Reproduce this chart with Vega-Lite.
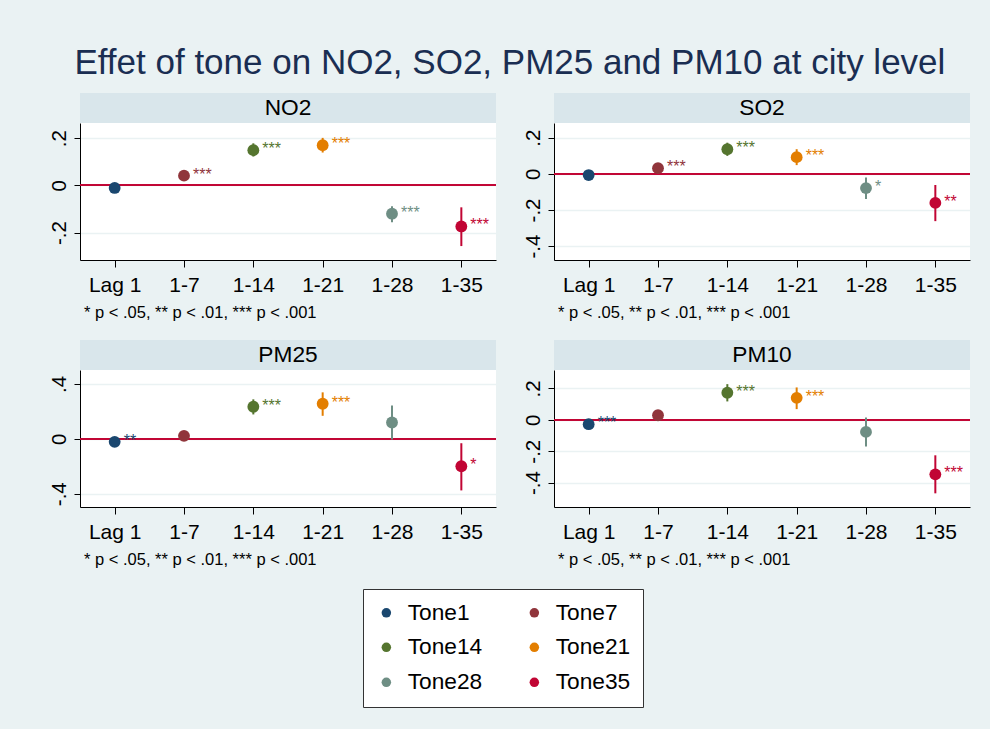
{
  "$schema": "https://vega.github.io/schema/vega-lite/v6.json",
  "background": "#EAF2F3",
  "padding": {"left": 48, "top": 46, "right": 19, "bottom": 23},
  "title": {"text": "Effet of tone on NO2, SO2, PM25 and PM10 at city level", "fontSize": 35, "fontWeight": "normal", "color": "#1a2e52", "anchor": "middle", "offset": 12},
  "datasets": {
    "est": [
      {"pollutant": "NO2", "lag": "Lag 1", "tone": "Tone1", "est": -0.011, "lo": -0.019, "hi": -0.003, "sig": ""},
      {"pollutant": "NO2", "lag": "1-7", "tone": "Tone7", "est": 0.041, "lo": 0.031, "hi": 0.051, "sig": "***"},
      {"pollutant": "NO2", "lag": "1-14", "tone": "Tone14", "est": 0.149, "lo": 0.122, "hi": 0.178, "sig": "***"},
      {"pollutant": "NO2", "lag": "1-21", "tone": "Tone21", "est": 0.170, "lo": 0.139, "hi": 0.201, "sig": "***"},
      {"pollutant": "NO2", "lag": "1-28", "tone": "Tone28", "est": -0.120, "lo": -0.156, "hi": -0.088, "sig": "***"},
      {"pollutant": "NO2", "lag": "1-35", "tone": "Tone35", "est": -0.174, "lo": -0.257, "hi": -0.093, "sig": "***"},
      {"pollutant": "SO2", "lag": "Lag 1", "tone": "Tone1", "est": -0.007, "lo": -0.015, "hi": 0.001, "sig": ""},
      {"pollutant": "SO2", "lag": "1-7", "tone": "Tone7", "est": 0.031, "lo": 0.019, "hi": 0.043, "sig": "***"},
      {"pollutant": "SO2", "lag": "1-14", "tone": "Tone14", "est": 0.136, "lo": 0.099, "hi": 0.172, "sig": "***"},
      {"pollutant": "SO2", "lag": "1-21", "tone": "Tone21", "est": 0.092, "lo": 0.048, "hi": 0.136, "sig": "***"},
      {"pollutant": "SO2", "lag": "1-28", "tone": "Tone28", "est": -0.079, "lo": -0.139, "hi": -0.020, "sig": "*"},
      {"pollutant": "SO2", "lag": "1-35", "tone": "Tone35", "est": -0.161, "lo": -0.262, "hi": -0.062, "sig": "**"},
      {"pollutant": "PM25", "lag": "Lag 1", "tone": "Tone1", "est": -0.022, "lo": -0.035, "hi": -0.009, "sig": "**"},
      {"pollutant": "PM25", "lag": "1-7", "tone": "Tone7", "est": 0.022, "lo": 0.005, "hi": 0.039, "sig": ""},
      {"pollutant": "PM25", "lag": "1-14", "tone": "Tone14", "est": 0.234, "lo": 0.178, "hi": 0.288, "sig": "***"},
      {"pollutant": "PM25", "lag": "1-21", "tone": "Tone21", "est": 0.256, "lo": 0.168, "hi": 0.339, "sig": "***"},
      {"pollutant": "PM25", "lag": "1-28", "tone": "Tone28", "est": 0.119, "lo": -0.005, "hi": 0.244, "sig": ""},
      {"pollutant": "PM25", "lag": "1-35", "tone": "Tone35", "est": -0.200, "lo": -0.376, "hi": -0.032, "sig": "*"},
      {"pollutant": "PM10", "lag": "Lag 1", "tone": "Tone1", "est": -0.028, "lo": -0.060, "hi": 0.004, "sig": "***"},
      {"pollutant": "PM10", "lag": "1-7", "tone": "Tone7", "est": 0.029, "lo": 0.010, "hi": 0.048, "sig": ""},
      {"pollutant": "PM10", "lag": "1-14", "tone": "Tone14", "est": 0.172, "lo": 0.117, "hi": 0.227, "sig": "***"},
      {"pollutant": "PM10", "lag": "1-21", "tone": "Tone21", "est": 0.140, "lo": 0.068, "hi": 0.206, "sig": "***"},
      {"pollutant": "PM10", "lag": "1-28", "tone": "Tone28", "est": -0.077, "lo": -0.170, "hi": 0.015, "sig": ""},
      {"pollutant": "PM10", "lag": "1-35", "tone": "Tone35", "est": -0.347, "lo": -0.468, "hi": -0.226, "sig": "***"}
    ]
  },
  "resolve": {"scale": {"color": "shared"}, "legend": {"color": "shared"}},
  "spacing": 18,
  "vconcat": [
    {
      "spacing": 25,
      "hconcat": [
        {
          "spacing": 0,
          "vconcat": [
            {"width": 416, "height": 30, "view": {"fill": "#D9E6EB", "stroke": null},
             "data": {"values": [{"panel": "NO2"}]},
             "mark": {"type": "text", "fontSize": 22.7, "color": "#000000", "baseline": "middle"},
             "encoding": {"text": {"field": "panel", "type": "nominal"}}},
            {"width": 416, "height": 137, "view": {"fill": "white", "stroke": null},
             "data": {"name": "est"},
             "transform": [{"filter": "datum.pollutant == 'NO2'"}],
             "title": {"text": "* p < .05, ** p < .01, *** p < .001", "orient": "bottom", "anchor": "start", "frame": "group", "fontSize": 16.5, "fontWeight": "normal", "color": "#000000", "dx": 4, "offset": 10},
             "layer": [
               {"mark": {"type": "rule", "color": "#c10534", "strokeWidth": 1.5},
                "encoding": {"y": {"datum": 0, "type": "quantitative", "scale": {"domain": [-0.316, 0.264], "nice": false, "zero": false}, "axis": {"values": [-0.2, 0, 0.2], "title": null}}}},
               {"mark": {"type": "rule", "strokeWidth": 2},
                "encoding": {"x": {"field": "lag", "type": "ordinal", "sort": ["Lag 1", "1-7", "1-14", "1-21", "1-28", "1-35"], "scale": {"type": "point", "padding": 0.5}, "axis": {"title": null}},
                             "y": {"field": "lo", "type": "quantitative"}, "y2": {"field": "hi"},
                             "color": {"field": "tone", "type": "nominal"}}},
               {"mark": {"type": "point", "filled": true, "size": 140, "opacity": 1},
                "encoding": {"x": {"field": "lag", "type": "ordinal", "sort": ["Lag 1", "1-7", "1-14", "1-21", "1-28", "1-35"]},
                             "y": {"field": "est", "type": "quantitative"},
                             "color": {"field": "tone", "type": "nominal", "scale": {"domain": ["Tone1", "Tone7", "Tone14", "Tone21", "Tone28", "Tone35"], "range": ["#1a476f", "#90353b", "#55752f", "#e37e00", "#6e8e84", "#c10534"]}, "legend": {"title": null}}}},
               {"mark": {"type": "text", "align": "left", "baseline": "middle", "dx": 9, "dy": -1, "fontSize": 16},
                "encoding": {"x": {"field": "lag", "type": "ordinal", "sort": ["Lag 1", "1-7", "1-14", "1-21", "1-28", "1-35"]},
                             "y": {"field": "est", "type": "quantitative"},
                             "text": {"field": "sig", "type": "nominal"},
                             "color": {"field": "tone", "type": "nominal"}}}
             ]}
          ]
        },
        {
          "spacing": 0,
          "vconcat": [
            {"width": 416, "height": 30, "view": {"fill": "#D9E6EB", "stroke": null},
             "data": {"values": [{"panel": "SO2"}]},
             "mark": {"type": "text", "fontSize": 22.7, "color": "#000000", "baseline": "middle"},
             "encoding": {"text": {"field": "panel", "type": "nominal"}}},
            {"width": 416, "height": 137, "view": {"fill": "white", "stroke": null},
             "data": {"name": "est"},
             "transform": [{"filter": "datum.pollutant == 'SO2'"}],
             "title": {"text": "* p < .05, ** p < .01, *** p < .001", "orient": "bottom", "anchor": "start", "frame": "group", "fontSize": 16.5, "fontWeight": "normal", "color": "#000000", "dx": 4, "offset": 10},
             "layer": [
               {"mark": {"type": "rule", "color": "#c10534", "strokeWidth": 1.5},
                "encoding": {"y": {"datum": 0, "type": "quantitative", "scale": {"domain": [-0.477, 0.281], "nice": false, "zero": false}, "axis": {"values": [-0.4, -0.2, 0, 0.2], "title": null}}}},
               {"mark": {"type": "rule", "strokeWidth": 2},
                "encoding": {"x": {"field": "lag", "type": "ordinal", "sort": ["Lag 1", "1-7", "1-14", "1-21", "1-28", "1-35"], "scale": {"type": "point", "padding": 0.5}, "axis": {"title": null}},
                             "y": {"field": "lo", "type": "quantitative"}, "y2": {"field": "hi"},
                             "color": {"field": "tone", "type": "nominal"}}},
               {"mark": {"type": "point", "filled": true, "size": 140, "opacity": 1},
                "encoding": {"x": {"field": "lag", "type": "ordinal", "sort": ["Lag 1", "1-7", "1-14", "1-21", "1-28", "1-35"]},
                             "y": {"field": "est", "type": "quantitative"},
                             "color": {"field": "tone", "type": "nominal"}}},
               {"mark": {"type": "text", "align": "left", "baseline": "middle", "dx": 9, "dy": -1, "fontSize": 16},
                "encoding": {"x": {"field": "lag", "type": "ordinal", "sort": ["Lag 1", "1-7", "1-14", "1-21", "1-28", "1-35"]},
                             "y": {"field": "est", "type": "quantitative"},
                             "text": {"field": "sig", "type": "nominal"},
                             "color": {"field": "tone", "type": "nominal"}}}
             ]}
          ]
        }
      ]
    },
    {
      "spacing": 25,
      "hconcat": [
        {
          "spacing": 0,
          "vconcat": [
            {"width": 416, "height": 30, "view": {"fill": "#D9E6EB", "stroke": null},
             "data": {"values": [{"panel": "PM25"}]},
             "mark": {"type": "text", "fontSize": 22.7, "color": "#000000", "baseline": "middle"},
             "encoding": {"text": {"field": "panel", "type": "nominal"}}},
            {"width": 416, "height": 137, "view": {"fill": "white", "stroke": null},
             "data": {"name": "est"},
             "transform": [{"filter": "datum.pollutant == 'PM25'"}],
             "title": {"text": "* p < .05, ** p < .01, *** p < .001", "orient": "bottom", "anchor": "start", "frame": "group", "fontSize": 16.5, "fontWeight": "normal", "color": "#000000", "dx": 4, "offset": 10},
             "layer": [
               {"mark": {"type": "rule", "color": "#c10534", "strokeWidth": 1.5},
                "encoding": {"y": {"datum": 0, "type": "quantitative", "scale": {"domain": [-0.497, 0.502], "nice": false, "zero": false}, "axis": {"values": [-0.4, -0.2, 0, 0.2, 0.4], "title": null}}}},
               {"mark": {"type": "rule", "strokeWidth": 2},
                "encoding": {"x": {"field": "lag", "type": "ordinal", "sort": ["Lag 1", "1-7", "1-14", "1-21", "1-28", "1-35"], "scale": {"type": "point", "padding": 0.5}, "axis": {"title": null}},
                             "y": {"field": "lo", "type": "quantitative"}, "y2": {"field": "hi"},
                             "color": {"field": "tone", "type": "nominal"}}},
               {"mark": {"type": "point", "filled": true, "size": 140, "opacity": 1},
                "encoding": {"x": {"field": "lag", "type": "ordinal", "sort": ["Lag 1", "1-7", "1-14", "1-21", "1-28", "1-35"]},
                             "y": {"field": "est", "type": "quantitative"},
                             "color": {"field": "tone", "type": "nominal"}}},
               {"mark": {"type": "text", "align": "left", "baseline": "middle", "dx": 9, "dy": -1, "fontSize": 16},
                "encoding": {"x": {"field": "lag", "type": "ordinal", "sort": ["Lag 1", "1-7", "1-14", "1-21", "1-28", "1-35"]},
                             "y": {"field": "est", "type": "quantitative"},
                             "text": {"field": "sig", "type": "nominal"},
                             "color": {"field": "tone", "type": "nominal"}}}
             ]}
          ]
        },
        {
          "spacing": 0,
          "vconcat": [
            {"width": 416, "height": 30, "view": {"fill": "#D9E6EB", "stroke": null},
             "data": {"values": [{"panel": "PM10"}]},
             "mark": {"type": "text", "fontSize": 22.7, "color": "#000000", "baseline": "middle"},
             "encoding": {"text": {"field": "panel", "type": "nominal"}}},
            {"width": 416, "height": 137, "view": {"fill": "white", "stroke": null},
             "data": {"name": "est"},
             "transform": [{"filter": "datum.pollutant == 'PM10'"}],
             "title": {"text": "* p < .05, ** p < .01, *** p < .001", "orient": "bottom", "anchor": "start", "frame": "group", "fontSize": 16.5, "fontWeight": "normal", "color": "#000000", "dx": 4, "offset": 10},
             "layer": [
               {"mark": {"type": "rule", "color": "#c10534", "strokeWidth": 1.5},
                "encoding": {"y": {"datum": 0, "type": "quantitative", "scale": {"domain": [-0.555, 0.317], "nice": false, "zero": false}, "axis": {"values": [-0.4, -0.2, 0, 0.2], "title": null}}}},
               {"mark": {"type": "rule", "strokeWidth": 2},
                "encoding": {"x": {"field": "lag", "type": "ordinal", "sort": ["Lag 1", "1-7", "1-14", "1-21", "1-28", "1-35"], "scale": {"type": "point", "padding": 0.5}, "axis": {"title": null}},
                             "y": {"field": "lo", "type": "quantitative"}, "y2": {"field": "hi"},
                             "color": {"field": "tone", "type": "nominal"}}},
               {"mark": {"type": "point", "filled": true, "size": 140, "opacity": 1},
                "encoding": {"x": {"field": "lag", "type": "ordinal", "sort": ["Lag 1", "1-7", "1-14", "1-21", "1-28", "1-35"]},
                             "y": {"field": "est", "type": "quantitative"},
                             "color": {"field": "tone", "type": "nominal"}}},
               {"mark": {"type": "text", "align": "left", "baseline": "middle", "dx": 9, "dy": -1, "fontSize": 16},
                "encoding": {"x": {"field": "lag", "type": "ordinal", "sort": ["Lag 1", "1-7", "1-14", "1-21", "1-28", "1-35"]},
                             "y": {"field": "est", "type": "quantitative"},
                             "text": {"field": "sig", "type": "nominal"},
                             "color": {"field": "tone", "type": "nominal"}}}
             ]}
          ]
        }
      ]
    }
  ],
  "config": {
    "font": "Liberation Sans",
    "view": {"stroke": null},
    "axis": {"domainColor": "#000000", "domainWidth": 1, "tickColor": "#000000", "tickWidth": 1, "labelColor": "#000000", "labelFont": "Liberation Sans"},
    "axisX": {"labelFontSize": 21, "tickSize": 7, "labelPadding": 7, "grid": false, "labelAngle": 0},
    "axisY": {"labelFontSize": 20.5, "tickSize": 6, "labelPadding": 9, "labelAngle": 270, "labelAlign": "center", "labelBaseline": "alphabetic", "grid": true, "gridColor": "#EAF2F3", "gridWidth": 1.5, "labelExpr": "datum.value == 0 ? '0' : (datum.value < 0 ? '-' : '') + replace(format(abs(datum.value), '.1f'), '0.', '.')"},
    "legend": {"orient": "none", "direction": "horizontal", "legendX": 283, "legendY": 496, "columns": 2, "symbolType": "circle", "symbolSize": 90, "symbolStrokeWidth": 0, "labelFontSize": 22.7, "labelColor": "#000000", "fillColor": "white", "strokeColor": "#333333", "padding": 12, "rowPadding": 11, "columnPadding": 40, "labelOffset": 10}
  }
}
